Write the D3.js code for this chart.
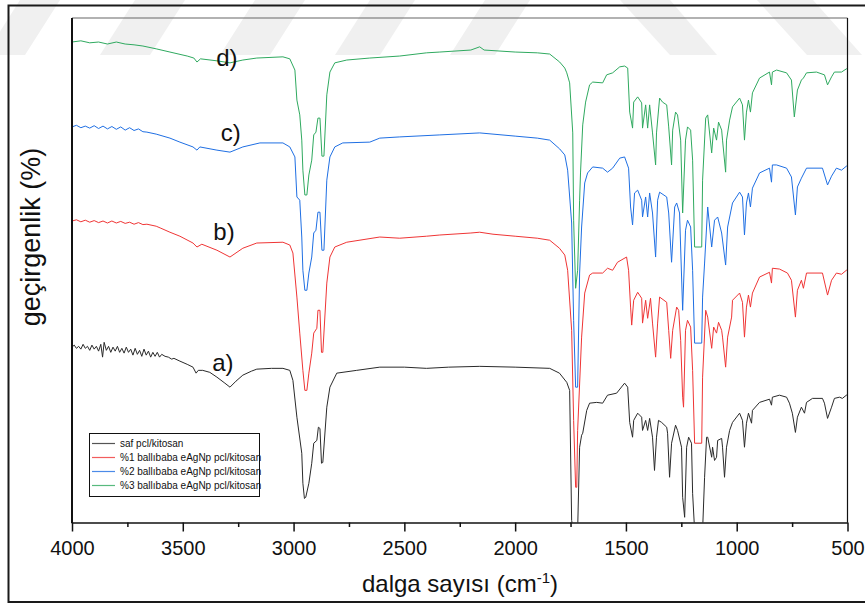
<!DOCTYPE html>
<html><head><meta charset="utf-8">
<script src="https://cdn.jsdelivr.net/npm/d3@7/dist/d3.min.js"></script>
<style>
body{margin:0;background:#fff}
svg{display:block}
text{font-family:"Liberation Sans",Arial,Helvetica,sans-serif;fill:#111}
</style>
</head><body>
<svg id="chart" width="865" height="605"></svg>
<script>
// ---------------- DATA ----------------
const xMajorTicks = [4000, 3500, 3000, 2500, 2000, 1500, 1000, 500];
const xMinorTicks = [3750, 3250, 2750, 2250, 1750, 1250, 750];
const seriesNames = ["saf pcl/kitosan", "%1 ballıbaba eAgNp pcl/kitosan", "%2 ballıbaba eAgNp pcl/kitosan", "%3 ballıbaba eAgNp pcl/kitosan"];
const curveTags = ["a)", "b)", "c)", "d)"];
const xTitle = "dalga sayısı (cm";
const yTitle = "geçirgenlik (%)";

// [wavenumber cm-1, transmittance (a.u., stacked)]
const safData = [[4000,43.8],[3990,44.3],[3980,43.5],[3970,44.0],[3960,43.3],[3950,44.5],[3940,43.5],[3930,44.0],[3920,43.0],[3910,44.3],[3900,43.3],[3890,44.0],[3880,42.8],[3870,44.5],[3862,41.3],[3855,45.0],[3845,43.0],[3835,44.0],[3825,42.5],[3815,43.8],[3805,42.8],[3795,44.0],[3785,42.5],[3775,43.5],[3765,42.3],[3755,43.8],[3745,42.5],[3735,43.3],[3725,41.8],[3715,43.5],[3705,42.0],[3695,43.0],[3685,41.5],[3675,43.3],[3665,41.8],[3655,42.8],[3645,41.3],[3635,42.5],[3625,41.5],[3615,42.5],[3605,41.3],[3595,42.0],[3580,41.5],[3565,41.3],[3550,40.8],[3540,41.0],[3513,40.3],[3480,39.5],[3454,38.8],[3440,37.3],[3430,38.0],[3410,38.0],[3378,37.5],[3346,36.3],[3310,34.8],[3287,33.8],[3260,35.3],[3229,36.8],[3190,37.8],[3166,38.3],[3100,38.5],[3048,38.5],[3017,38.0],[3003,35.5],[2985,26.3],[2963,17.3],[2958,9.8],[2951,6.0],[2945,6.3],[2931,9.8],[2918,14.8],[2909,19.8],[2895,20.5],[2888,23.8],[2881,23.5],[2874,14.8],[2868,15.0],[2850,28.8],[2836,33.8],[2805,37.3],[2715,38.0],[2611,38.8],[2500,38.8],[2400,38.5],[2300,38.8],[2160,39.0],[2000,38.8],[1844,38.5],[1800,37.3],[1767,35.0],[1754,33.0],[1745,0.5],[1736,-2],[1718,-2],[1709,18.8],[1700,21.8],[1695,22.3],[1677,28.0],[1664,29.8],[1632,30.0],[1605,29.8],[1583,31.8],[1542,32.3],[1506,34.8],[1492,33.8],[1483,25.0],[1470,21.3],[1465,25.5],[1447,27.3],[1429,26.3],[1425,23.0],[1411,25.5],[1402,23.0],[1393,26.0],[1380,21.3],[1371,13.0],[1362,21.3],[1353,25.5],[1339,25.0],[1316,23.8],[1312,22.3],[1303,11.3],[1294,19.8],[1276,24.3],[1267,23.0],[1249,18.8],[1244,6.3],[1235,1.3],[1226,18.8],[1217,21.3],[1204,19.8],[1199,7.3],[1190,-2],[1154,-2],[1145,11.3],[1136,21.3],[1131,21.3],[1113,16.3],[1109,18.8],[1100,15.5],[1091,16.3],[1086,20.5],[1068,21.0],[1064,18.8],[1055,11.3],[1046,18.8],[1032,23.0],[1019,25.0],[987,27.3],[974,25.5],[965,18.8],[956,24.8],[947,27.3],[933,24.8],[929,28.0],[897,30.0],[852,30.8],[843,29.3],[839,31.3],[807,31.8],[775,31.3],[762,29.8],[749,27.3],[735,22.5],[726,26.3],[708,28.8],[694,27.3],[685,30.0],[658,31.0],[613,31.0],[604,29.8],[590,26.0],[572,28.8],[559,31.0],[536,31.3],[523,31.0],[505,31.8],[500,31.8]];

const p1Data = [[4000,75.3],[3980,75.6],[3960,75.1],[3940,75.5],[3920,75.0],[3900,75.4],[3880,74.9],[3860,75.3],[3840,74.8],[3820,75.3],[3800,74.8],[3780,75.2],[3760,74.7],[3740,75.0],[3720,74.5],[3700,74.9],[3680,74.4],[3662,74.5],[3620,74.0],[3599,73.5],[3558,72.5],[3513,71.5],[3454,69.8],[3436,68.8],[3414,69.5],[3346,68.0],[3287,66.3],[3229,68.5],[3166,69.8],[3048,70.0],[3017,69.3],[3003,67.3],[2985,56.3],[2972,47.3],[2958,38.0],[2949,33.0],[2940,33.0],[2931,37.3],[2918,42.3],[2909,47.3],[2895,48.5],[2890,53.0],[2881,53.0],[2874,42.5],[2868,42.5],[2850,59.8],[2836,66.3],[2814,68.8],[2760,70.0],[2611,71.3],[2521,71.0],[2400,71.5],[2340,71.8],[2200,72.3],[2160,72.5],[2100,72.0],[2000,71.5],[1900,71.0],[1844,70.5],[1800,68.5],[1776,66.8],[1763,63.0],[1745,48.0],[1736,25.5],[1727,8.8],[1722,8.8],[1718,23.0],[1700,46.3],[1686,57.3],[1664,61.8],[1650,62.3],[1605,62.3],[1583,63.5],[1560,63.0],[1538,65.0],[1497,66.3],[1488,63.0],[1479,53.8],[1474,49.3],[1465,55.5],[1447,57.5],[1429,56.0],[1425,49.8],[1411,55.5],[1402,51.0],[1389,56.0],[1380,49.8],[1366,41.3],[1357,49.8],[1348,56.3],[1316,55.0],[1307,48.0],[1298,41.0],[1289,48.0],[1271,53.8],[1262,53.0],[1253,45.5],[1244,31.3],[1240,28.8],[1231,48.0],[1222,50.5],[1208,48.8],[1199,38.0],[1190,19.8],[1158,19.8],[1154,36.3],[1140,53.0],[1131,51.3],[1113,43.5],[1104,48.8],[1091,47.3],[1082,50.0],[1068,48.0],[1064,46.3],[1050,38.8],[1041,46.3],[1023,51.3],[1019,55.5],[987,57.3],[974,55.0],[965,46.3],[956,53.8],[947,56.8],[938,53.8],[929,57.3],[897,61.3],[852,62.5],[843,59.8],[839,63.5],[807,63.3],[771,62.3],[753,60.5],[735,51.3],[726,58.0],[708,60.5],[699,58.5],[685,62.3],[613,62.3],[590,56.8],[572,60.5],[550,62.3],[527,62.0],[505,63.0],[500,63.0]];

const p2Data = [[4000,98.8],[3980,99.2],[3960,98.6],[3940,99.0],[3920,98.5],[3900,99.1],[3880,98.4],[3860,99.0],[3840,98.3],[3820,98.9],[3800,98.2],[3780,98.8],[3760,98.0],[3740,98.6],[3720,97.9],[3700,98.3],[3680,97.6],[3662,97.5],[3620,97.0],[3558,96.0],[3513,95.0],[3454,93.8],[3436,93.0],[3423,93.8],[3346,93.0],[3287,92.5],[3229,93.8],[3152,94.8],[3048,94.8],[3017,93.8],[2994,91.3],[2985,81.3],[2972,80.5],[2963,71.3],[2958,63.0],[2949,58.0],[2940,58.0],[2931,62.3],[2918,66.3],[2909,72.3],[2899,73.0],[2890,77.5],[2881,77.5],[2872,68.0],[2863,68.0],[2850,85.5],[2836,91.3],[2814,93.8],[2778,94.8],[2656,95.0],[2611,96.0],[2521,96.3],[2340,96.8],[2160,97.3],[2000,96.5],[1900,96.0],[1844,95.5],[1799,93.3],[1776,91.8],[1763,88.0],[1745,74.8],[1736,50.5],[1727,33.8],[1718,33.8],[1709,62.3],[1700,73.8],[1686,84.8],[1673,87.3],[1650,88.8],[1605,88.5],[1583,87.5],[1560,88.5],[1528,91.0],[1506,91.3],[1488,88.5],[1479,78.8],[1470,74.3],[1461,82.3],[1447,83.0],[1429,80.5],[1425,76.3],[1411,81.3],[1402,76.3],[1393,82.3],[1380,77.3],[1366,66.3],[1357,80.5],[1348,82.5],[1316,81.3],[1307,77.3],[1294,65.0],[1280,78.8],[1271,79.8],[1258,77.3],[1244,53.0],[1231,73.0],[1222,75.5],[1208,73.8],[1199,63.0],[1190,44.8],[1158,44.8],[1154,56.3],[1145,64.8],[1131,78.8],[1113,68.8],[1100,75.5],[1086,76.3],[1068,72.3],[1050,64.3],[1041,73.8],[1019,79.8],[987,82.5],[974,81.3],[965,71.8],[956,79.8],[947,82.3],[938,78.8],[929,83.5],[897,87.3],[852,88.5],[843,85.0],[839,89.3],[820,89.3],[775,88.5],[753,86.3],[735,76.8],[726,83.8],[708,86.0],[685,88.5],[613,88.5],[590,84.3],[572,86.5],[550,88.5],[527,88.0],[505,89.0],[500,89.0]];

const p3Data = [[4000,120.0],[3960,120.3],[3920,119.8],[3880,120.0],[3840,119.5],[3800,120.0],[3760,119.5],[3720,119.3],[3680,119.0],[3620,118.3],[3558,117.5],[3480,116.5],[3450,116.0],[3436,115.0],[3420,115.8],[3346,115.3],[3287,114.8],[3229,115.5],[3166,116.0],[3048,116.3],[3017,115.8],[2994,113.0],[2985,105.5],[2972,101.8],[2963,95.5],[2958,88.0],[2949,81.8],[2940,81.8],[2931,86.8],[2918,90.5],[2909,96.8],[2899,97.5],[2890,101.0],[2881,101.0],[2872,91.5],[2863,91.5],[2850,106.8],[2836,112.5],[2814,114.8],[2760,115.5],[2656,116.0],[2521,116.5],[2400,117.3],[2340,117.5],[2200,118.0],[2160,118.8],[2140,118.0],[2000,117.5],[1900,117.3],[1844,117.0],[1799,115.0],[1776,113.5],[1767,112.3],[1754,109.8],[1740,97.3],[1736,75.5],[1727,58.5],[1718,63.0],[1709,80.5],[1705,87.3],[1695,99.3],[1682,105.0],[1664,109.3],[1650,110.0],[1605,109.8],[1587,111.8],[1560,112.3],[1528,113.8],[1506,114.0],[1492,113.5],[1483,102.5],[1470,98.5],[1465,105.0],[1447,106.3],[1429,104.8],[1425,98.5],[1411,104.3],[1402,98.5],[1393,104.3],[1380,97.3],[1366,89.3],[1362,97.3],[1348,106.0],[1335,105.0],[1316,104.3],[1307,98.8],[1294,89.3],[1289,98.0],[1276,102.5],[1267,101.8],[1253,95.5],[1244,77.3],[1231,95.5],[1222,98.8],[1208,98.0],[1199,90.5],[1190,68.8],[1158,68.8],[1154,85.5],[1140,101.0],[1131,101.8],[1113,92.3],[1104,98.5],[1091,95.5],[1082,100.0],[1068,98.0],[1064,95.5],[1050,87.5],[1046,95.5],[1032,100.5],[1019,103.8],[987,106.0],[974,104.3],[965,95.5],[956,102.5],[947,105.5],[938,102.5],[929,107.3],[897,111.0],[852,112.5],[843,109.3],[839,112.5],[820,113.0],[775,112.3],[753,110.5],[740,101.3],[726,108.0],[708,110.5],[699,111.0],[685,112.3],[640,112.5],[604,111.8],[590,109.3],[572,111.3],[559,112.5],[527,112.5],[505,113.3],[500,113.3]];

const allSeries = [safData, p1Data, p2Data, p3Data];
const seriesColors = ["#2a2a2a", "#ef3535", "#1f6fe3", "#2fa95f"];
// tag anchors in data units [wavenumber, transmittance]
const tagWave = [3319, 3314, 3283, 3301];
const tagLevel = [37.8, 70.5, 95.3, 114];

// ---------------- DRAW ----------------
const svg = d3.select("#chart");
const W = 865, H = 605;
const L = 72, R = 847.5, T = 18, B = 522.5;

// faint background watermark stripes
const wm = svg.append("g").attr("fill", "#f0f0f0");
[[20,60,-15,25],[135,185,100,150],[255,305,220,270],[370,415,335,380],[485,530,450,495]].forEach(s => {
  wm.append("polygon").attr("points", `${s[0]},0 ${s[1]},0 ${s[3]},55 ${s[2]},55`);
});
[[620,670,670,717],[757,813,807,862]].forEach(s => {
  wm.append("polygon").attr("points", `${s[0]},0 ${s[1]},0 ${s[3]},55 ${s[2]},55`);
});

// outer frame
svg.append("path").attr("d", `M${W+5},5.5 H8.5 V602 H${W+5}`)
  .attr("fill", "none").attr("stroke", "#1a1a1a").attr("stroke-width", 2);

const x = d3.scaleLinear().domain([4000, 500]).range([L, R]);
const y = d3.scaleLinear().domain([0, 126]).range([B, T]);

svg.append("defs").append("clipPath").attr("id", "clip")
  .append("rect").attr("x", L).attr("y", T).attr("width", R - L).attr("height", B - T);

const line = d3.line().x(d => x(d[0])).y(d => y(d[1]));
const plot = svg.append("g").attr("clip-path", "url(#clip)");
allSeries.forEach((s, i) => {
  plot.append("path").datum(s).attr("d", line)
    .attr("fill", "none").attr("stroke", seriesColors[i])
    .attr("stroke-width", 1).attr("stroke-linejoin", "round");
});

// curve tags
curveTags.forEach((t, i) => {
  svg.append("text").attr("x", x(tagWave[i])).attr("y", y(tagLevel[i]))
    .attr("text-anchor", "middle").attr("font-size", 24).text(t);
});

// frame lines
svg.append("line").attr("x1", L).attr("x2", R).attr("y1", T).attr("y2", T)
  .attr("stroke", "#666").attr("stroke-width", 1.2);
svg.append("line").attr("x1", R).attr("x2", R).attr("y1", T).attr("y2", B)
  .attr("stroke", "#111").attr("stroke-width", 1.2);
svg.append("line").attr("x1", L).attr("x2", L).attr("y1", T).attr("y2", B + 0.8)
  .attr("stroke", "#111").attr("stroke-width", 2);

// x axis
const ax = svg.append("g").attr("transform", `translate(0,${B})`)
  .call(d3.axisBottom(x).tickValues(xMajorTicks).tickSize(9).tickSizeOuter(0).tickPadding(9).tickFormat(d3.format("d")));
ax.select(".domain").attr("stroke", "#111").attr("stroke-width", 1.7);
ax.selectAll(".tick line").attr("stroke", "#111").attr("stroke-width", 1.5);
ax.selectAll(".tick text").attr("font-size", 20).attr("fill", "#111")
  .attr("font-family", '"Liberation Sans",Arial,sans-serif');
const axm = svg.append("g").attr("transform", `translate(0,${B})`)
  .call(d3.axisBottom(x).tickValues(xMinorTicks).tickSize(4.5).tickFormat(""));
axm.select(".domain").remove();
axm.selectAll(".tick line").attr("stroke", "#111").attr("stroke-width", 1.5);

// axis titles
const xt = svg.append("text").attr("x", 460).attr("y", 592).attr("text-anchor", "middle").attr("font-size", 24);
xt.append("tspan").text(xTitle);
xt.append("tspan").attr("dy", -9).attr("font-size", 15).text("-1");
xt.append("tspan").attr("dy", 9).text(")");

svg.append("text").attr("transform", "translate(40,237) rotate(-90)")
  .attr("text-anchor", "middle").attr("font-size", 27).text(yTitle);

// legend
const lg = svg.append("g");
lg.append("rect").attr("x", 89.5).attr("y", 433.5).attr("width", 170).attr("height", 63)
  .attr("fill", "#fff").attr("stroke", "#111").attr("stroke-width", 1);
seriesNames.forEach((n, i) => {
  const yy = 443.5 + i * 14;
  lg.append("line").attr("x1", 92).attr("x2", 115).attr("y1", yy).attr("y2", yy)
    .attr("stroke", seriesColors[i]).attr("stroke-width", 1.2).attr("opacity", 0.8);
  lg.append("text").attr("x", 120).attr("y", yy + 3.5).attr("font-size", 10).text(n);
});
</script>
</body></html>
